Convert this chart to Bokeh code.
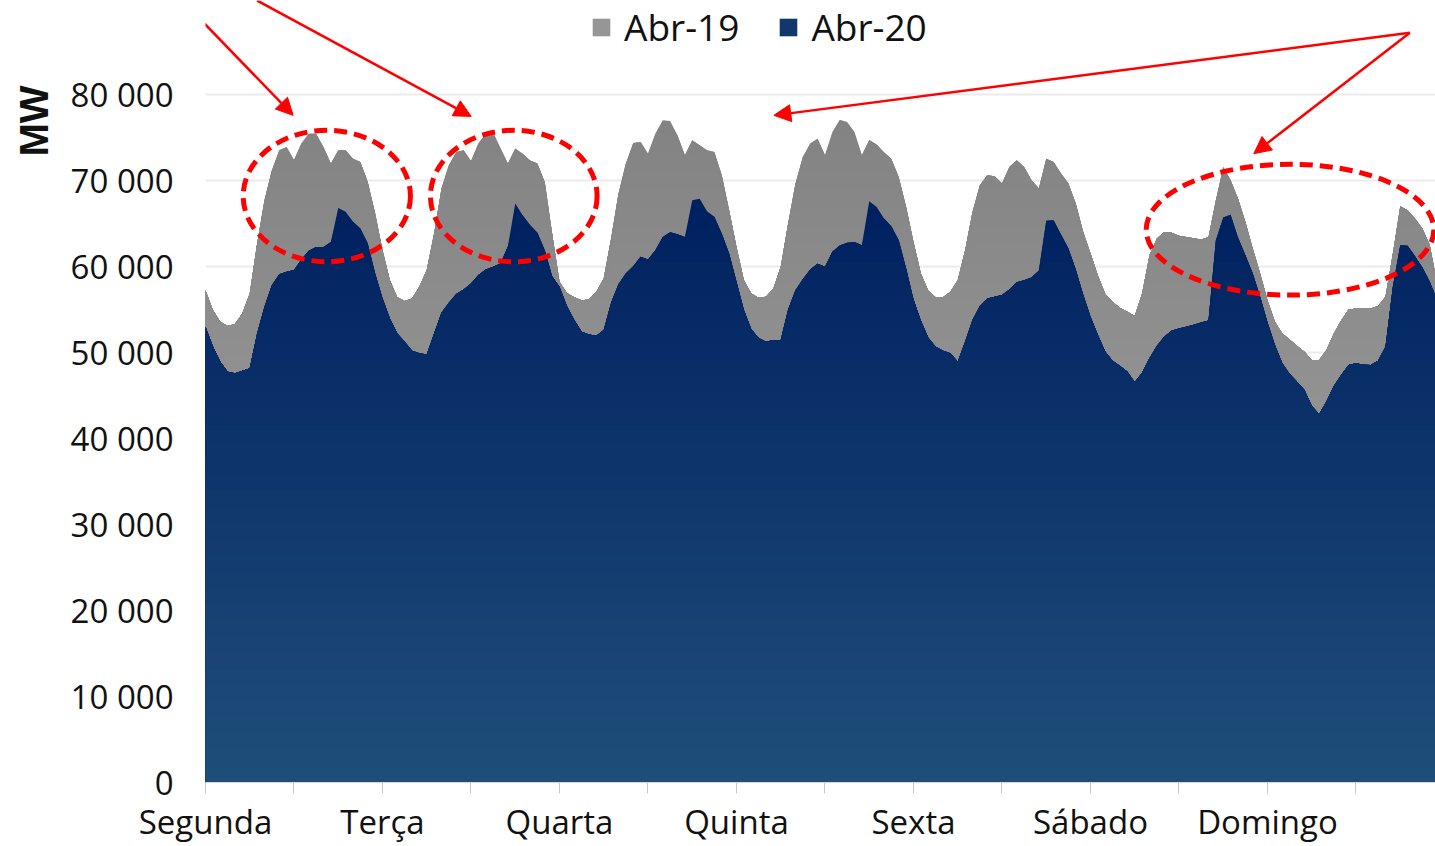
import numpy as np
from bokeh.plotting import figure
from bokeh.models import FixedTicker, Legend, LegendItem, Title, Arrow, NormalHead, Range1d
from bokeh.embed import file_html
from bokeh.resources import INLINE

# ---------------- data ----------------
day_labels = ["Segunda", "Terça", "Quarta", "Quinta", "Sexta", "Sábado", "Domingo"]
series_names = ["Abr-19", "Abr-20"]
hours = list(range(168))

abr19 = [
    57240, 54920, 53560, 53060, 53290, 54540, 56860, 62670, 67690, 71170, 73500, 73890,
    72380, 74280, 75440, 75440, 73890, 71950, 73500, 73500, 72530, 72150, 69820, 66150,
    61890, 58400, 56400, 55970, 56280, 57630, 59570, 63820, 69050, 71760, 73300, 73500,
    72260, 74280, 75440, 75630, 73730, 71950, 73710, 73100, 72300, 71950, 69800, 63820,
    58210, 56900, 56400, 56080, 56150, 57050, 58600, 63250, 68460, 71950, 74350, 74470,
    73100, 75440, 76980, 76900, 75250, 72920, 74660, 74080, 73500, 73300, 70600, 66530,
    62270, 58400, 56860, 56350, 56470, 57430, 59950, 64980, 69630, 72730, 74280, 74850,
    72920, 75630, 77060, 76800, 75630, 72920, 74700, 74160, 73270, 72500, 70370, 66900,
    62850, 59180, 57170, 56400, 56400, 57050, 58400, 61880, 66330, 69430, 70600, 70480,
    69630, 71560, 72330, 71560, 70020, 69050, 72530, 72150, 70790, 69630, 67310, 64020,
    61500, 58950, 56780, 55890, 55160, 54730, 54230, 56860, 61300, 63240, 64010, 63900,
    63550, 63430, 63280, 63120, 63430, 67690, 71560, 70020, 67890, 65180, 62080, 59180,
    56080, 53560, 52210, 51510, 50740, 50080, 49120, 49120, 50280, 52210, 53750, 54990,
    55120, 55120, 55120, 55390, 56470, 61500, 67000, 66530, 65560, 64400, 62500, 58000,
]

abr20 = [
    52980, 50730, 48920, 47760, 47570, 47870, 48150, 52210, 55310, 57820, 59100, 59370,
    59570, 60800, 61810, 62270, 62270, 62850, 66800, 66340, 65180, 64400, 62670, 59180,
    56300, 53950, 52210, 51250, 50200, 49890, 49770, 52210, 54610, 55770, 56780, 57310,
    58010, 58990, 59650, 59950, 60340, 62300, 67300, 65950, 64800, 63900, 61890, 58870,
    57630, 55390, 53760, 52400, 52090, 51940, 52600, 55770, 57940, 59180, 60030, 61110,
    60800, 61890, 63430, 63970, 63740, 63430, 67690, 67880, 66410, 65760, 63820, 61500,
    58210, 54920, 52680, 51670, 51240, 51440, 51440, 54990, 57240, 58520, 59640, 60300,
    59950, 61690, 62430, 62740, 62850, 62460, 67580, 66920, 65560, 64670, 63050, 59760,
    56160, 53680, 51710, 50660, 50200, 49890, 48920, 51240, 53760, 55390, 56280, 56470,
    56670, 57310, 58170, 58400, 58710, 59500, 65300, 65370, 63700, 62080, 59640, 56740,
    54150, 52020, 50080, 49040, 48410, 47760, 46530, 47640, 49310, 50740, 51820, 52520,
    52790, 52980, 53210, 53490, 53700, 63050, 65690, 66000, 63360, 61310, 59180, 56470,
    53490, 50860, 48730, 47490, 46600, 45630, 43780, 42810, 44280, 46100, 47380, 48530,
    48730, 48570, 48530, 49040, 50660, 57630, 62460, 62390, 61190, 59870, 58210, 56080,
]

y_ticks = [0, 10000, 20000, 30000, 40000, 50000, 60000, 70000, 80000]
y_tick_labels = ["0", "10 000", "20 000", "30 000", "40 000", "50 000", "60 000", "70 000", "80 000"]

# annotation geometry (data coordinates: hours, MW)
ell_x = [16.45, 41.80, 147.05]
ell_y = [68180, 68180, 64270]
ell_w = [22.68, 22.60, 39.0]
ell_h = [15290, 15290, 15210]
arrows = [
    (-3.16, 90910, 11.89, 77560),
    (7.01, 90910, 36.03, 77440),
    (163.3, 87160, 77.06, 77560),
    (163.3, 87160, 142.14, 73110),
]

# ---------------- figure ----------------
x = np.array(hours, dtype=float)
v19 = np.array(abr19, dtype=float)
v20 = np.array(abr20, dtype=float)

p = figure(width=1435, height=846, output_backend="svg", toolbar_location=None,
           x_range=Range1d(0, 166.78), y_range=Range1d(0, 90914),
           min_border_left=205, min_border_right=0, min_border_top=0, min_border_bottom=63)
p.outline_line_color = None
p.background_fill_color = "white"
p.border_fill_color = "white"


def lerp(c0, c1, t):
    return "#%02x%02x%02x" % tuple(int(round(a + (b - a) * t)) for a, b in zip(c0, c1))


N = 36
# gray gradient (Abr-19)
g_top, g_bot, g_max = (130, 130, 130), (168, 168, 168), 77500
gray_renderers = []
for k in range(N, 0, -1):
    hi = g_max * k / N
    col = lerp(g_top, g_bot, 1 - (k - 0.5) / N)
    y2 = v19 if k == N else np.minimum(v19, hi)
    gray_renderers.append(p.varea(x=x, y1=0, y2=y2, fill_color=col))

# blue gradient (Abr-20)
b_top, b_bot, b_max = (0, 32, 96), (31, 78, 121), 68000
blue_renderers = []
for k in range(N, 0, -1):
    hi = b_max * k / N
    col = lerp(b_top, b_bot, 1 - (k - 0.5) / N)
    y2 = v20 if k == N else np.minimum(v20, hi)
    blue_renderers.append(p.varea(x=x, y1=0, y2=y2, fill_color=col))

# axes
xa = p.xaxis[0]
xa.ticker = FixedTicker(ticks=list(range(0, 168, 12)))
xa.major_label_overrides = {h: (day_labels[h // 24] if h % 24 == 0 else "") for h in range(0, 168, 12)}
xa.major_tick_out = 11
xa.major_tick_in = 0
xa.major_tick_line_color = "#c8c8c8"
xa.minor_tick_line_color = None
xa.axis_line_color = "#d9d9d9"
xa.major_label_text_font = "Open Sans"
xa.major_label_text_font_size = "33px"
xa.major_label_text_color = "#111111"
xa.major_label_standoff = 5

ya = p.yaxis[0]
ya.ticker = FixedTicker(ticks=y_ticks)
ya.major_label_overrides = dict(zip(y_ticks, y_tick_labels))
ya.axis_line_color = None
ya.major_tick_line_color = None
ya.minor_tick_line_color = None
ya.major_label_text_font = "Open Sans"
ya.major_label_text_font_size = "33px"
ya.major_label_text_color = "#111111"
ya.major_label_standoff = 26

p.xgrid.visible = False
p.ygrid.grid_line_color = "#ebebeb"
p.ygrid.grid_line_width = 2

# y-axis title "MW" (top-aligned, as in the reference)
p.add_layout(Title(text="MW", align="right", offset=85, vertical_align="top", standoff=20,
                   text_font="Liberation Sans", text_font_style="bold", text_font_size="40px",
                   text_color="#111111"), "left")

# legend
legend = Legend(items=[LegendItem(label=series_names[0], renderers=[gray_renderers[N // 2]]),
                       LegendItem(label=series_names[1], renderers=[blue_renderers[N // 2]])],
                orientation="horizontal", location=(385, 730),
                label_text_font="Open Sans", label_text_font_size="37px", label_text_color="#111111",
                glyph_width=22, glyph_height=22, label_standoff=12, spacing=38,
                padding=0, margin=0, border_line_color=None, background_fill_alpha=0)
p.add_layout(legend)

# red annotations
p.ellipse(x=ell_x, y=ell_y, width=ell_w, height=ell_h, fill_color=None,
          line_color="#ff0000", line_width=5, line_dash="13 7")
for xs, ys, xe, ye in arrows:
    p.add_layout(Arrow(end=NormalHead(size=17, fill_color="#ff0000", line_color="#ff0000"),
                       x_start=xs, y_start=ys, x_end=xe, y_end=ye,
                       line_color="#ff0000", line_width=2.5))

open("out.html", "w").write(file_html(p, INLINE))
